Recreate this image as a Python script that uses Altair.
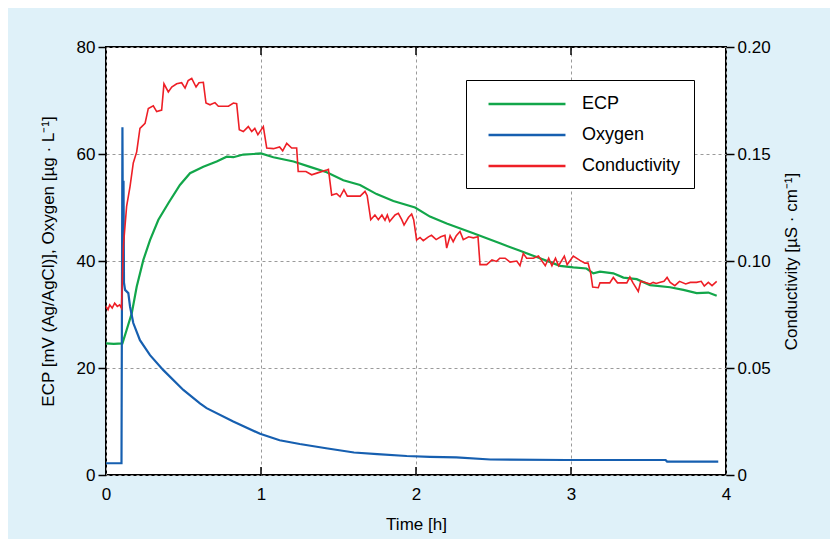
import altair as alt
import pandas as pd

# ---------------- data ----------------
series_names = ["ECP", "Oxygen", "Conductivity"]
series_colors = ["#12a64a", "#165fb0", "#ee1f26"]

time_ticks = [0, 1, 2, 3, 4]
inner_ticks = [1, 2, 3]
left_ticks = [0, 20, 40, 60, 80]
right_ticks = [0, 0.05, 0.10, 0.15, 0.20]

# ECP [mV (Ag/AgCl)]
ecp_t = [0, 0.05, 0.106, 0.133, 0.166, 0.198, 0.241, 0.284, 0.338, 0.402, 0.477,
         0.542, 0.628, 0.714, 0.779, 0.822, 0.886, 0.95, 1.0, 1.08, 1.21, 1.316,
         1.424, 1.531, 1.639, 1.746, 1.854, 1.994, 2.09, 2.198, 2.37, 2.542, 2.671,
         2.80, 2.929, 3.015, 3.10, 3.144, 3.187, 3.273, 3.338, 3.424, 3.51, 3.639,
         3.725, 3.811, 3.886, 3.94]
ecp_v = [24.6, 24.5, 24.6, 27.1, 30.2, 35.2, 40.2, 43.9, 47.7, 50.8, 54.2,
         56.4, 57.6, 58.6, 59.5, 59.4, 59.9, 60.0, 60.1, 59.4, 58.6, 57.6,
         56.6, 55.1, 54.2, 52.5, 51.2, 50.0, 48.3, 47.0, 45.2, 43.3, 41.9,
         40.5, 39.1, 38.8, 38.6, 37.7, 38.0, 37.7, 36.9, 36.6, 35.5, 35.1,
         34.6, 34.0, 34.1, 33.5]

# Oxygen [µg/L]
oxy_t = [0, 0.100, 0.106, 0.110, 0.113, 0.116, 0.123, 0.144, 0.155, 0.176, 0.219,
         0.284, 0.370, 0.499, 0.606, 0.649, 0.821, 0.994, 1.12, 1.25, 1.42, 1.60,
         1.75, 1.94, 2.09, 2.26, 2.48, 2.97, 3.61, 3.62, 3.95]
oxy_v = [2.2, 2.2, 65.0, 38.0, 55.0, 36.0, 34.6, 34.0, 31.5, 28.4, 25.2,
         22.4, 19.6, 15.9, 13.4, 12.5, 10.0, 7.7, 6.5, 5.8, 5.0, 4.2,
         3.9, 3.55, 3.4, 3.3, 2.9, 2.8, 2.8, 2.5, 2.5]

# Conductivity [µS/cm]
cond_t = [0, 0.013, 0.024, 0.040, 0.056, 0.073, 0.088, 0.100, 0.112, 0.133, 0.155,
          0.176, 0.198, 0.219, 0.252, 0.273, 0.305, 0.327, 0.359, 0.374, 0.402,
          0.424, 0.456, 0.488, 0.510, 0.530, 0.553, 0.581, 0.600, 0.628, 0.645,
          0.671, 0.703, 0.725, 0.790, 0.822, 0.843, 0.860, 0.886, 0.918, 0.940,
          0.960, 0.980, 1.015, 1.037, 1.080, 1.120, 1.140, 1.166, 1.198, 1.230,
          1.240, 1.290, 1.327, 1.370, 1.424, 1.435, 1.456, 1.488, 1.510, 1.535,
          1.557, 1.640, 1.671, 1.685, 1.708, 1.735, 1.757, 1.780, 1.800, 1.815,
          1.830, 1.865, 1.886, 1.908, 1.923, 1.951, 1.972, 1.985, 2.004, 2.026,
          2.047, 2.080, 2.100, 2.130, 2.160, 2.187, 2.198, 2.220, 2.240, 2.260,
          2.284, 2.305, 2.340, 2.370, 2.400, 2.413, 2.456, 2.490, 2.520, 2.540,
          2.575, 2.607, 2.650, 2.671, 2.692, 2.714, 2.757, 2.790, 2.834, 2.856,
          2.877, 2.900, 2.920, 2.957, 2.975, 3.015, 3.058, 3.090, 3.110, 3.127,
          3.140, 3.176, 3.187, 3.250, 3.273, 3.300, 3.360, 3.380, 3.400, 3.434,
          3.450, 3.480, 3.510, 3.530, 3.550, 3.570, 3.600, 3.620, 3.640, 3.670,
          3.700, 3.740, 3.770, 3.810, 3.840, 3.860, 3.886, 3.910, 3.940]
cond_v = [0.0788, 0.0773, 0.0795, 0.0780, 0.0803, 0.0788, 0.0795, 0.0780, 0.1068, 0.1255, 0.1348,
          0.1458, 0.1510, 0.1620, 0.1643, 0.1713, 0.1725, 0.1698, 0.1705, 0.1828, 0.1790,
          0.1813, 0.1828, 0.1833, 0.1808, 0.1843, 0.1853, 0.1813, 0.1833, 0.1835, 0.1738,
          0.1730, 0.1740, 0.1723, 0.1723, 0.1738, 0.1735, 0.1613, 0.1605, 0.1628, 0.1605,
          0.1620, 0.1590, 0.1628, 0.1528, 0.1525, 0.1533, 0.1515, 0.1550, 0.1528, 0.1528,
          0.1418, 0.1418, 0.1403, 0.1413, 0.1425, 0.1428, 0.1308, 0.1315, 0.1300, 0.1333,
          0.1303, 0.1303, 0.1325, 0.1305, 0.1193, 0.1215, 0.1193, 0.1215, 0.1190, 0.1215,
          0.1185, 0.1215, 0.1223, 0.1193, 0.1168, 0.1203, 0.1220, 0.1193, 0.1098, 0.1110,
          0.1095, 0.1113, 0.1120, 0.1100, 0.1113, 0.1120, 0.1060, 0.1118, 0.1090, 0.1118,
          0.1138, 0.1100, 0.1113, 0.1108, 0.1113, 0.0983, 0.0983, 0.1005, 0.0998, 0.1013,
          0.1013, 0.0995, 0.1000, 0.0978, 0.1035, 0.1013, 0.1013, 0.1023, 0.0978, 0.1013,
          0.0978, 0.1013, 0.0978, 0.1023, 0.0983, 0.1023, 0.1003, 0.0990, 0.0990, 0.0943,
          0.0878, 0.0875, 0.0898, 0.0898, 0.0923, 0.0898, 0.0898, 0.0925, 0.0898, 0.0858,
          0.0905, 0.0900, 0.0893, 0.0900, 0.0895, 0.0900, 0.0905, 0.0923, 0.0900, 0.0885,
          0.0905, 0.0893, 0.0900, 0.0900, 0.0905, 0.0883, 0.0900, 0.0885, 0.0905]

# ---------------- tables ----------------
left_df = pd.concat([
    pd.DataFrame({"t": ecp_t, "value": ecp_v, "series": "ECP", "k": 0}),
    pd.DataFrame({"t": oxy_t, "value": oxy_v, "series": "Oxygen", "k": 1}),
])
cond_df = pd.DataFrame({"t": cond_t, "cond": cond_v, "series": "Conductivity"})
tick_df = pd.DataFrame({"t": inner_ticks})

FONT = "Liberation Sans"
W, H = 620, 428

color = alt.Color(
    "series:N",
    scale=alt.Scale(domain=series_names, range=series_colors),
    sort=series_names,
    legend=alt.Legend(
        title=None, orient="none", legendX=360, legendY=33,
        symbolType="M-4,0H4", symbolSize=370, symbolStrokeWidth=2.5,
        symbolOffset=37, labelOffset=44,
        labelFontSize=18, labelFont=FONT, labelColor="black",
        strokeColor="black", fillColor="white", padding=13, rowPadding=11,
    ),
)

x_enc = alt.X(
    "t:Q",
    scale=alt.Scale(domain=[0, 4], nice=False, zero=False),
    axis=alt.Axis(
        values=time_ticks, title="Time [h]", format="d", ticks=False,
        labelFlush=False, labelPadding=11, titlePadding=14,
        grid=True, gridDash=[3, 3], gridColor="#9a9a9a", gridWidth=1,
    ),
)

left = alt.Chart(left_df).mark_line(strokeWidth=2.2).encode(
    x=x_enc,
    y=alt.Y(
        "value:Q",
        scale=alt.Scale(domain=[0, 80], nice=False),
        axis=alt.Axis(
            values=left_ticks, orient="left",
            title="ECP [mV (Ag/AgCl)], Oxygen [µg · L⁻¹]",
            tickSize=8, tickWidth=1.5, tickColor="black", labelPadding=3,
            labelFlush=False, titlePadding=19,
            grid=True, gridDash=[3, 3], gridColor="#9a9a9a", gridWidth=1,
        ),
    ),
    color=color,
    order="k:Q",
)

right = alt.Chart(cond_df).mark_line(strokeWidth=1.6).encode(
    x=x_enc,
    y=alt.Y(
        "cond:Q",
        scale=alt.Scale(domain=[0, 0.2], nice=False),
        axis=alt.Axis(
            values=right_ticks, orient="right",
            title="Conductivity [µS · cm⁻¹]", titleAngle=270,
            labelExpr="datum.value == 0 ? '0' : format(datum.value, '.2f')",
            tickSize=8, tickWidth=1.5, tickColor="black", labelPadding=3,
            labelFlush=False, titlePadding=30, grid=False,
        ),
    ),
    color=color,
)

top_ticks = alt.Chart(tick_df).mark_rule(color="black", strokeWidth=1.5).encode(
    x=x_enc, y=alt.value(0), y2=alt.value(8)
)
bottom_ticks = alt.Chart(tick_df).mark_rule(color="black", strokeWidth=1.5).encode(
    x=x_enc, y=alt.value(H - 8), y2=alt.value(H)
)

chart = (
    alt.layer(left, right, top_ticks, bottom_ticks)
    .resolve_scale(y="independent")
    .properties(
        width=W, height=H,
        autosize=alt.AutoSizeParams(type="none"),
        padding={"left": 98, "top": 39, "right": 104, "bottom": 64},
        background="#dff1f9",
    )
    .configure_view(fill="white", stroke="black", strokeWidth=2)
    .configure_axis(
        domain=False, labelFont=FONT, titleFont=FONT, labelFontSize=17,
        titleFontSize=17, titleFontWeight="normal", labelColor="black",
        titleColor="black",
    )
)

chart.save("out.html", embed_options={"renderer": "svg", "actions": False})
